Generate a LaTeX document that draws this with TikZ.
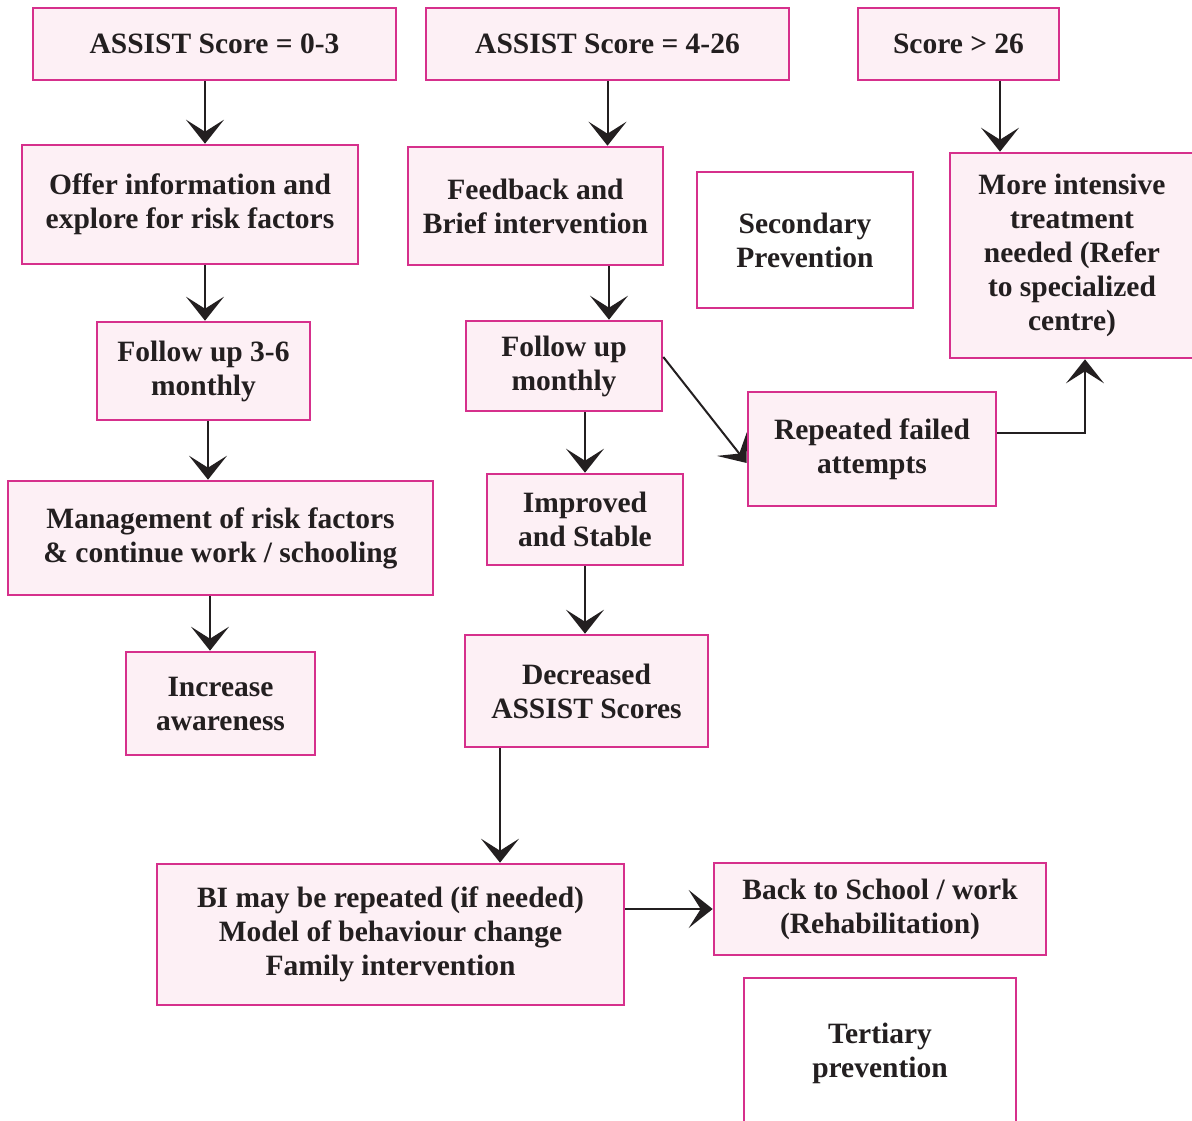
\documentclass[tikz,border=0pt]{standalone}
\usepackage{fontspec}
\setmainfont{Liberation Serif}
\usetikzlibrary{arrows.meta}
\definecolor{boxline}{RGB}{214,48,140}
\definecolor{boxfill}{RGB}{253,240,245}
\definecolor{ink}{RGB}{35,31,32}
\begin{document}
\begin{tikzpicture}[x=1pt,y=-1pt,
  box/.style={draw=boxline,line width=2.6pt,fill=boxfill,inner sep=0pt,
    align=center,font=\fontsize{29.5}{34}\selectfont\bfseries,text=ink},
  plain/.style={box,fill=white},
  arr/.style={draw=ink,line width=2pt,
    -{Stealth[length=24pt,width=38pt,inset=12pt]}},
  lin/.style={draw=ink,line width=2pt}]
\clip (0,0) rectangle (1192,1120);
\fill[white] (0,0) rectangle (1192,1120);

% left column: score 0-3
\node[box,minimum width=363,minimum height=72] (a03) at (214.5,44) {ASSIST Score = 0-3};
\node[box,minimum width=336,minimum height=119] (offer) at (190,204.5) {Offer information and\\explore for risk factors};
\node[box,minimum width=213,minimum height=98] (fu36) at (203.5,371) {Follow up 3-6\\monthly};
\node[box,minimum width=425,minimum height=114] (mgmt) at (220.5,538) {Management of risk factors\\\& continue work / schooling};
\node[box,minimum width=189,minimum height=103] (aware) at (220.5,703.5) {Increase\\awareness};

% middle column: score 4-26
\node[box,minimum width=363,minimum height=72] (a426) at (607.5,44) {ASSIST Score = 4-26};
\node[box,minimum width=255,minimum height=118] (brief) at (535.5,206) {Feedback and\\Brief intervention};
\node[box,minimum width=196,minimum height=90] (fum) at (564,366) {Follow up\\monthly};
\node[box,minimum width=196,minimum height=91] (stable) at (585,519.5) {Improved\\and Stable};
\node[box,minimum width=243,minimum height=112] (decr) at (586.5,691) {Decreased\\ASSIST Scores};
\node[box,minimum width=467,minimum height=141] (bi) at (390.5,934.5) {BI may be repeated (if needed)\\Model of behaviour change\\Family intervention};
\node[box,minimum width=332,minimum height=92] (back) at (880,909) {Back to School / work\\(Rehabilitation)};
\node[plain,minimum width=272,minimum height=150] (tert) at (880,1053) {Tertiary\\prevention};

% right column: score above 26
\node[box,minimum width=201,minimum height=72] (s26) at (958.5,44) {Score > 26};
\node[plain,minimum width=216,minimum height=136] (sec) at (805,240) {Secondary\\Prevention};
\node[box,minimum width=244,minimum height=205] (intense) at (1072,255.5) {More intensive\\treatment\\needed (Refer\\to specialized\\centre)};
\node[box,minimum width=248,minimum height=114] (fail) at (872,449) {Repeated failed\\attempts};

% connectors
\draw[arr] ([xshift=-9.5]a03.south) -- ([xshift=-9.5]a03.south |- offer.north);
\draw[arr] ([xshift=15]offer.south) -- ([xshift=15]offer.south |- fu36.north);
\draw[arr] ([xshift=4.5]fu36.south) -- ([xshift=4.5]fu36.south |- mgmt.north);
\draw[arr] ([xshift=-10.5]mgmt.south) -- ([xshift=-10.5]mgmt.south |- aware.north);

\draw[arr] (a426.south) -- (a426.south |- brief.north);
\draw[arr] ([xshift=73.5]brief.south) -- ([xshift=73.5]brief.south |- fum.north);
\draw[arr] ([xshift=21]fum.south) -- ([xshift=21]fum.south |- stable.north);
\draw[arr] (stable.south) -- (stable.south |- decr.north);
\draw[arr] ([xshift=-86.5]decr.south) -- ([xshift=-86.5]decr.south |- bi.north);
\draw[arr] (bi.east |- back.west) -- (back.west);

\draw[arr] ([xshift=41.5]s26.south) -- ([xshift=41.5]s26.south |- intense.north);
\draw[arr] ([yshift=9]fum.east) -- ([yshift=-14]fail.west);
\draw[arr] ([yshift=16]fail.east) -| ([xshift=13]intense.south);
\end{tikzpicture}
\end{document}
